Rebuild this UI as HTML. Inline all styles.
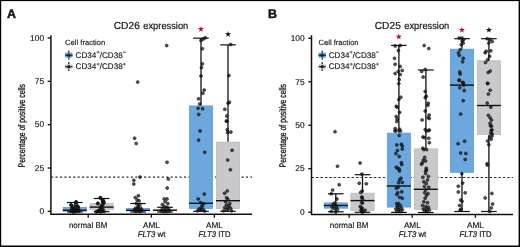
<!DOCTYPE html>
<html><head><meta charset="utf-8"><style>
html,body{margin:0;padding:0;background:#fff;}
svg{display:block;font-family:"Liberation Sans", sans-serif;will-change:transform;}
text{text-rendering:geometricPrecision;fill:#161616;stroke:#161616;stroke-width:0.14px;}
</style></head><body>
<svg width="520" height="247" viewBox="0 0 520 247" xmlns="http://www.w3.org/2000/svg">
<rect width="520" height="247" fill="#fff"/>
<rect x="0" y="0" width="520" height="1.1" fill="#000"/>
<rect x="0" y="0" width="1.2" height="247" fill="#000"/>
<rect x="518.6" y="0" width="1.4" height="247" fill="#000"/>
<rect x="0" y="245.5" width="520" height="1.5" fill="#000"/>
<text x="7.00" y="17.50" font-size="12.4" text-anchor="start" font-weight="bold" font-style="normal" style="stroke-width:0.5px">A</text>
<text y="28.9" style="stroke-width:0.2px"><tspan x="113.75" font-size="10.2">CD26</tspan><tspan x="143.30" font-size="9.8" textLength="45.0" lengthAdjust="spacingAndGlyphs">expression</tspan></text>
<text transform="translate(24.80,125.7) rotate(-90)" x="0" y="0" font-size="9.6" text-anchor="middle" textLength="83.4" lengthAdjust="spacingAndGlyphs" style="stroke-width:0.3px">Percentage of positive cells</text>
<line x1="51.50" y1="177.10" x2="252.00" y2="177.10" stroke="#2a2a2a" stroke-width="1.3" stroke-dasharray="2.1 2.33" stroke-dashoffset="0.45"/>
<path d="M50.90,35.3 L50.90,214.30 L252.00,214.30" fill="none" stroke="#111111" stroke-width="1.5"/>
<line x1="47.70" y1="38.00" x2="50.90" y2="38.00" stroke="#111111" stroke-width="1.35"/>
<text x="44.10" y="40.75" font-size="8.4" text-anchor="end" font-weight="normal" font-style="normal" >100</text>
<line x1="47.70" y1="81.34" x2="50.90" y2="81.34" stroke="#111111" stroke-width="1.35"/>
<text x="44.10" y="84.09" font-size="8.4" text-anchor="end" font-weight="normal" font-style="normal" >75</text>
<line x1="47.70" y1="124.67" x2="50.90" y2="124.67" stroke="#111111" stroke-width="1.35"/>
<text x="44.10" y="127.42" font-size="8.4" text-anchor="end" font-weight="normal" font-style="normal" >50</text>
<line x1="47.70" y1="168.01" x2="50.90" y2="168.01" stroke="#111111" stroke-width="1.35"/>
<text x="44.10" y="170.76" font-size="8.4" text-anchor="end" font-weight="normal" font-style="normal" >25</text>
<line x1="47.70" y1="211.35" x2="50.90" y2="211.35" stroke="#111111" stroke-width="1.35"/>
<text x="44.10" y="214.10" font-size="8.4" text-anchor="end" font-weight="normal" font-style="normal" >0</text>
<line x1="88.20" y1="214.30" x2="88.20" y2="217.70" stroke="#111111" stroke-width="1.3"/>
<line x1="151.40" y1="214.30" x2="151.40" y2="217.70" stroke="#111111" stroke-width="1.3"/>
<line x1="214.40" y1="214.30" x2="214.40" y2="217.70" stroke="#111111" stroke-width="1.3"/>
<text x="0.00" y="227.50" font-size="8.2" text-anchor="middle" font-weight="normal" font-style="normal" transform="translate(88.20,0) scale(0.975,1)">normal BM</text>
<text x="151.50" y="227.50" font-size="8.2" text-anchor="middle" font-weight="normal" font-style="normal" >AML</text>
<text x="0" y="237.4" font-size="8.2" text-anchor="middle" style="stroke-width:0.2px" transform="translate(151.60,0) scale(0.95,1)"><tspan font-style="italic">FLT3</tspan> wt</text>
<text x="214.50" y="227.50" font-size="8.2" text-anchor="middle" font-weight="normal" font-style="normal" >AML</text>
<text x="0" y="237.4" font-size="8.2" text-anchor="middle" style="stroke-width:0.2px" transform="translate(214.60,0) scale(0.945,1)"><tspan font-style="italic">FLT3</tspan> ITD</text>
<text x="65.10" y="45.40" font-size="7.6" text-anchor="start" font-weight="normal" font-style="normal" >Cell fraction</text>
<line x1="68.80" y1="50.7" x2="68.80" y2="59.6" stroke="#111111" stroke-width="1.2"/>
<rect x="65.10" y="52.6" width="7.4" height="5.2" fill="#6ca8de"/>
<line x1="65.10" y1="55.2" x2="72.50" y2="55.2" stroke="#111111" stroke-width="1.1"/>
<circle cx="68.80" cy="55.2" r="1.7" fill="#222"/>
<line x1="68.80" y1="62.1" x2="68.80" y2="71.1" stroke="#111111" stroke-width="1.2"/>
<rect x="65.10" y="64.1" width="7.4" height="5.2" fill="#d6d5d9"/>
<line x1="65.10" y1="66.7" x2="72.50" y2="66.7" stroke="#111111" stroke-width="1.1"/>
<circle cx="68.80" cy="66.7" r="1.7" fill="#222"/>
<text x="75.60" y="57.7" font-size="8.15">CD34<tspan dy="-3.3" font-size="5.6">+</tspan><tspan dy="3.3">/CD38</tspan><tspan dy="-3.3" font-size="5.6">−</tspan></text>
<text x="75.60" y="68.9" font-size="8.15">CD34<tspan dy="-3.3" font-size="5.6">+</tspan><tspan dy="3.3">/CD38</tspan><tspan dy="-3.3" font-size="5.6">+</tspan></text>
<rect x="63.20" y="207.40" width="23.20" height="3.80" fill="#6ca8de" stroke="#5c9dda" stroke-width="0.8"/>
<line x1="74.80" y1="202.50" x2="74.80" y2="207.00" stroke="#111111" stroke-width="1.3"/>
<line x1="74.80" y1="211.60" x2="74.80" y2="212.00" stroke="#111111" stroke-width="1.3"/>
<line x1="67.00" y1="202.50" x2="82.60" y2="202.50" stroke="#111111" stroke-width="1.2"/>
<line x1="67.00" y1="212.00" x2="82.60" y2="212.00" stroke="#111111" stroke-width="1.2"/>
<rect x="90.00" y="203.40" width="23.20" height="6.40" fill="#c9c8cd" stroke="#bcbbc0" stroke-width="0.8"/>
<line x1="101.60" y1="198.50" x2="101.60" y2="203.00" stroke="#111111" stroke-width="1.3"/>
<line x1="101.60" y1="210.20" x2="101.60" y2="211.60" stroke="#111111" stroke-width="1.3"/>
<line x1="93.80" y1="198.50" x2="109.40" y2="198.50" stroke="#111111" stroke-width="1.2"/>
<line x1="93.80" y1="211.60" x2="109.40" y2="211.60" stroke="#111111" stroke-width="1.2"/>
<rect x="126.40" y="208.60" width="23.20" height="2.00" fill="#6ca8de" stroke="#5c9dda" stroke-width="0.8"/>
<line x1="138.00" y1="203.50" x2="138.00" y2="208.20" stroke="#111111" stroke-width="1.3"/>
<line x1="138.00" y1="211.00" x2="138.00" y2="212.00" stroke="#111111" stroke-width="1.3"/>
<line x1="130.20" y1="203.50" x2="145.80" y2="203.50" stroke="#111111" stroke-width="1.2"/>
<line x1="130.20" y1="212.00" x2="145.80" y2="212.00" stroke="#111111" stroke-width="1.2"/>
<rect x="153.40" y="209.80" width="23.20" height="1.00" fill="#c9c8cd" stroke="#bcbbc0" stroke-width="0.8"/>
<line x1="165.00" y1="207.30" x2="165.00" y2="209.40" stroke="#111111" stroke-width="1.3"/>
<line x1="165.00" y1="211.20" x2="165.00" y2="212.00" stroke="#111111" stroke-width="1.3"/>
<line x1="157.20" y1="207.30" x2="172.80" y2="207.30" stroke="#111111" stroke-width="1.2"/>
<line x1="157.20" y1="212.00" x2="172.80" y2="212.00" stroke="#111111" stroke-width="1.2"/>
<rect x="189.40" y="105.90" width="23.20" height="102.50" fill="#6ca8de" stroke="#5c9dda" stroke-width="0.8"/>
<line x1="201.00" y1="38.20" x2="201.00" y2="105.50" stroke="#111111" stroke-width="1.3"/>
<line x1="201.00" y1="208.80" x2="201.00" y2="211.30" stroke="#111111" stroke-width="1.3"/>
<line x1="193.20" y1="38.20" x2="208.80" y2="38.20" stroke="#111111" stroke-width="1.2"/>
<line x1="193.20" y1="211.30" x2="208.80" y2="211.30" stroke="#111111" stroke-width="1.2"/>
<rect x="216.40" y="142.20" width="23.20" height="66.20" fill="#c9c8cd" stroke="#bcbbc0" stroke-width="0.8"/>
<line x1="228.00" y1="44.90" x2="228.00" y2="141.80" stroke="#111111" stroke-width="1.3"/>
<line x1="228.00" y1="208.80" x2="228.00" y2="211.30" stroke="#111111" stroke-width="1.3"/>
<line x1="220.20" y1="44.90" x2="235.80" y2="44.90" stroke="#111111" stroke-width="1.2"/>
<line x1="220.20" y1="211.30" x2="235.80" y2="211.30" stroke="#111111" stroke-width="1.2"/>
<circle cx="71.40" cy="205.10" r="1.5" fill="#111" fill-opacity="0.72" stroke="#111" stroke-opacity="0.9" stroke-width="0.6"/>
<circle cx="76.20" cy="201.90" r="1.5" fill="#111" fill-opacity="0.72" stroke="#111" stroke-opacity="0.9" stroke-width="0.6"/>
<circle cx="76.60" cy="204.70" r="1.5" fill="#111" fill-opacity="0.72" stroke="#111" stroke-opacity="0.9" stroke-width="0.6"/>
<circle cx="78.20" cy="206.80" r="1.5" fill="#111" fill-opacity="0.72" stroke="#111" stroke-opacity="0.9" stroke-width="0.6"/>
<circle cx="72.20" cy="208.40" r="1.5" fill="#111" fill-opacity="0.72" stroke="#111" stroke-opacity="0.9" stroke-width="0.6"/>
<circle cx="74.20" cy="209.60" r="1.5" fill="#111" fill-opacity="0.72" stroke="#111" stroke-opacity="0.9" stroke-width="0.6"/>
<circle cx="76.20" cy="210.80" r="1.5" fill="#111" fill-opacity="0.72" stroke="#111" stroke-opacity="0.9" stroke-width="0.6"/>
<circle cx="78.70" cy="211.20" r="1.5" fill="#111" fill-opacity="0.72" stroke="#111" stroke-opacity="0.9" stroke-width="0.6"/>
<circle cx="70.50" cy="211.20" r="1.5" fill="#111" fill-opacity="0.72" stroke="#111" stroke-opacity="0.9" stroke-width="0.6"/>
<circle cx="73.00" cy="210.50" r="1.5" fill="#111" fill-opacity="0.72" stroke="#111" stroke-opacity="0.9" stroke-width="0.6"/>
<circle cx="75.50" cy="207.50" r="1.5" fill="#111" fill-opacity="0.72" stroke="#111" stroke-opacity="0.9" stroke-width="0.6"/>
<circle cx="77.00" cy="209.00" r="1.5" fill="#111" fill-opacity="0.72" stroke="#111" stroke-opacity="0.9" stroke-width="0.6"/>
<circle cx="70.90" cy="204.90" r="1.5" fill="#111" fill-opacity="0.72" stroke="#111" stroke-opacity="0.9" stroke-width="0.6"/>
<circle cx="76.00" cy="202.00" r="1.5" fill="#111" fill-opacity="0.72" stroke="#111" stroke-opacity="0.9" stroke-width="0.6"/>
<circle cx="77.50" cy="206.40" r="1.5" fill="#111" fill-opacity="0.72" stroke="#111" stroke-opacity="0.9" stroke-width="0.6"/>
<circle cx="73.10" cy="206.70" r="1.5" fill="#111" fill-opacity="0.72" stroke="#111" stroke-opacity="0.9" stroke-width="0.6"/>
<circle cx="74.60" cy="208.90" r="1.5" fill="#111" fill-opacity="0.72" stroke="#111" stroke-opacity="0.9" stroke-width="0.6"/>
<circle cx="71.70" cy="210.70" r="1.5" fill="#111" fill-opacity="0.72" stroke="#111" stroke-opacity="0.9" stroke-width="0.6"/>
<circle cx="77.10" cy="210.00" r="1.5" fill="#111" fill-opacity="0.72" stroke="#111" stroke-opacity="0.9" stroke-width="0.6"/>
<circle cx="73.50" cy="212.20" r="1.5" fill="#111" fill-opacity="0.72" stroke="#111" stroke-opacity="0.9" stroke-width="0.6"/>
<circle cx="78.20" cy="208.20" r="1.5" fill="#111" fill-opacity="0.72" stroke="#111" stroke-opacity="0.9" stroke-width="0.6"/>
<circle cx="75.70" cy="211.50" r="1.5" fill="#111" fill-opacity="0.72" stroke="#111" stroke-opacity="0.9" stroke-width="0.6"/>
<circle cx="72.00" cy="207.50" r="1.5" fill="#111" fill-opacity="0.72" stroke="#111" stroke-opacity="0.9" stroke-width="0.6"/>
<circle cx="79.00" cy="210.50" r="1.5" fill="#111" fill-opacity="0.72" stroke="#111" stroke-opacity="0.9" stroke-width="0.6"/>
<circle cx="100.40" cy="198.00" r="1.5" fill="#111" fill-opacity="0.72" stroke="#111" stroke-opacity="0.9" stroke-width="0.6"/>
<circle cx="102.60" cy="200.20" r="1.5" fill="#111" fill-opacity="0.72" stroke="#111" stroke-opacity="0.9" stroke-width="0.6"/>
<circle cx="103.90" cy="202.00" r="1.5" fill="#111" fill-opacity="0.72" stroke="#111" stroke-opacity="0.9" stroke-width="0.6"/>
<circle cx="98.10" cy="203.30" r="1.5" fill="#111" fill-opacity="0.72" stroke="#111" stroke-opacity="0.9" stroke-width="0.6"/>
<circle cx="103.50" cy="203.80" r="1.5" fill="#111" fill-opacity="0.72" stroke="#111" stroke-opacity="0.9" stroke-width="0.6"/>
<circle cx="101.70" cy="206.00" r="1.5" fill="#111" fill-opacity="0.72" stroke="#111" stroke-opacity="0.9" stroke-width="0.6"/>
<circle cx="101.20" cy="208.20" r="1.5" fill="#111" fill-opacity="0.72" stroke="#111" stroke-opacity="0.9" stroke-width="0.6"/>
<circle cx="99.50" cy="210.50" r="1.5" fill="#111" fill-opacity="0.72" stroke="#111" stroke-opacity="0.9" stroke-width="0.6"/>
<circle cx="97.70" cy="211.40" r="1.5" fill="#111" fill-opacity="0.72" stroke="#111" stroke-opacity="0.9" stroke-width="0.6"/>
<circle cx="100.80" cy="211.80" r="1.5" fill="#111" fill-opacity="0.72" stroke="#111" stroke-opacity="0.9" stroke-width="0.6"/>
<circle cx="102.60" cy="210.90" r="1.5" fill="#111" fill-opacity="0.72" stroke="#111" stroke-opacity="0.9" stroke-width="0.6"/>
<circle cx="104.00" cy="211.50" r="1.5" fill="#111" fill-opacity="0.72" stroke="#111" stroke-opacity="0.9" stroke-width="0.6"/>
<circle cx="96.00" cy="211.80" r="1.5" fill="#111" fill-opacity="0.72" stroke="#111" stroke-opacity="0.9" stroke-width="0.6"/>
<circle cx="100.40" cy="197.60" r="1.5" fill="#111" fill-opacity="0.72" stroke="#111" stroke-opacity="0.9" stroke-width="0.6"/>
<circle cx="97.60" cy="203.60" r="1.5" fill="#111" fill-opacity="0.72" stroke="#111" stroke-opacity="0.9" stroke-width="0.6"/>
<circle cx="103.20" cy="200.40" r="1.5" fill="#111" fill-opacity="0.72" stroke="#111" stroke-opacity="0.9" stroke-width="0.6"/>
<circle cx="103.70" cy="202.30" r="1.5" fill="#111" fill-opacity="0.72" stroke="#111" stroke-opacity="0.9" stroke-width="0.6"/>
<circle cx="102.30" cy="205.00" r="1.5" fill="#111" fill-opacity="0.72" stroke="#111" stroke-opacity="0.9" stroke-width="0.6"/>
<circle cx="100.40" cy="208.30" r="1.5" fill="#111" fill-opacity="0.72" stroke="#111" stroke-opacity="0.9" stroke-width="0.6"/>
<circle cx="98.10" cy="211.10" r="1.5" fill="#111" fill-opacity="0.72" stroke="#111" stroke-opacity="0.9" stroke-width="0.6"/>
<circle cx="97.20" cy="211.60" r="1.5" fill="#111" fill-opacity="0.72" stroke="#111" stroke-opacity="0.9" stroke-width="0.6"/>
<circle cx="99.50" cy="210.60" r="1.5" fill="#111" fill-opacity="0.72" stroke="#111" stroke-opacity="0.9" stroke-width="0.6"/>
<circle cx="102.80" cy="209.20" r="1.5" fill="#111" fill-opacity="0.72" stroke="#111" stroke-opacity="0.9" stroke-width="0.6"/>
<circle cx="101.00" cy="206.50" r="1.5" fill="#111" fill-opacity="0.72" stroke="#111" stroke-opacity="0.9" stroke-width="0.6"/>
<circle cx="100.00" cy="211.50" r="1.5" fill="#111" fill-opacity="0.72" stroke="#111" stroke-opacity="0.9" stroke-width="0.6"/>
<circle cx="137.70" cy="82.10" r="1.5" fill="#111" fill-opacity="0.72" stroke="#111" stroke-opacity="0.9" stroke-width="0.6"/>
<circle cx="134.60" cy="138.20" r="1.5" fill="#111" fill-opacity="0.72" stroke="#111" stroke-opacity="0.9" stroke-width="0.6"/>
<circle cx="136.20" cy="143.50" r="1.5" fill="#111" fill-opacity="0.72" stroke="#111" stroke-opacity="0.9" stroke-width="0.6"/>
<circle cx="139.90" cy="177.10" r="1.5" fill="#111" fill-opacity="0.72" stroke="#111" stroke-opacity="0.9" stroke-width="0.6"/>
<circle cx="133.80" cy="180.30" r="1.5" fill="#111" fill-opacity="0.72" stroke="#111" stroke-opacity="0.9" stroke-width="0.6"/>
<circle cx="133.80" cy="184.00" r="1.5" fill="#111" fill-opacity="0.72" stroke="#111" stroke-opacity="0.9" stroke-width="0.6"/>
<circle cx="138.40" cy="195.70" r="1.5" fill="#111" fill-opacity="0.72" stroke="#111" stroke-opacity="0.9" stroke-width="0.6"/>
<circle cx="135.30" cy="197.60" r="1.5" fill="#111" fill-opacity="0.72" stroke="#111" stroke-opacity="0.9" stroke-width="0.6"/>
<circle cx="137.10" cy="199.90" r="1.5" fill="#111" fill-opacity="0.72" stroke="#111" stroke-opacity="0.9" stroke-width="0.6"/>
<circle cx="139.00" cy="200.80" r="1.5" fill="#111" fill-opacity="0.72" stroke="#111" stroke-opacity="0.9" stroke-width="0.6"/>
<circle cx="136.20" cy="203.60" r="1.5" fill="#111" fill-opacity="0.72" stroke="#111" stroke-opacity="0.9" stroke-width="0.6"/>
<circle cx="139.90" cy="204.50" r="1.5" fill="#111" fill-opacity="0.72" stroke="#111" stroke-opacity="0.9" stroke-width="0.6"/>
<circle cx="138.10" cy="206.40" r="1.5" fill="#111" fill-opacity="0.72" stroke="#111" stroke-opacity="0.9" stroke-width="0.6"/>
<circle cx="135.30" cy="208.20" r="1.5" fill="#111" fill-opacity="0.72" stroke="#111" stroke-opacity="0.9" stroke-width="0.6"/>
<circle cx="140.90" cy="208.20" r="1.5" fill="#111" fill-opacity="0.72" stroke="#111" stroke-opacity="0.9" stroke-width="0.6"/>
<circle cx="137.10" cy="209.20" r="1.5" fill="#111" fill-opacity="0.72" stroke="#111" stroke-opacity="0.9" stroke-width="0.6"/>
<circle cx="139.00" cy="210.10" r="1.5" fill="#111" fill-opacity="0.72" stroke="#111" stroke-opacity="0.9" stroke-width="0.6"/>
<circle cx="134.30" cy="210.10" r="1.5" fill="#111" fill-opacity="0.72" stroke="#111" stroke-opacity="0.9" stroke-width="0.6"/>
<circle cx="141.80" cy="210.10" r="1.5" fill="#111" fill-opacity="0.72" stroke="#111" stroke-opacity="0.9" stroke-width="0.6"/>
<circle cx="136.00" cy="211.50" r="1.5" fill="#111" fill-opacity="0.72" stroke="#111" stroke-opacity="0.9" stroke-width="0.6"/>
<circle cx="140.00" cy="211.60" r="1.5" fill="#111" fill-opacity="0.72" stroke="#111" stroke-opacity="0.9" stroke-width="0.6"/>
<circle cx="138.00" cy="207.50" r="1.5" fill="#111" fill-opacity="0.72" stroke="#111" stroke-opacity="0.9" stroke-width="0.6"/>
<circle cx="167.00" cy="162.30" r="1.5" fill="#111" fill-opacity="0.72" stroke="#111" stroke-opacity="0.9" stroke-width="0.6"/>
<circle cx="168.30" cy="179.00" r="1.5" fill="#111" fill-opacity="0.72" stroke="#111" stroke-opacity="0.9" stroke-width="0.6"/>
<circle cx="167.20" cy="188.10" r="1.5" fill="#111" fill-opacity="0.72" stroke="#111" stroke-opacity="0.9" stroke-width="0.6"/>
<circle cx="164.20" cy="198.90" r="1.5" fill="#111" fill-opacity="0.72" stroke="#111" stroke-opacity="0.9" stroke-width="0.6"/>
<circle cx="167.00" cy="198.90" r="1.5" fill="#111" fill-opacity="0.72" stroke="#111" stroke-opacity="0.9" stroke-width="0.6"/>
<circle cx="165.10" cy="201.70" r="1.5" fill="#111" fill-opacity="0.72" stroke="#111" stroke-opacity="0.9" stroke-width="0.6"/>
<circle cx="167.90" cy="203.60" r="1.5" fill="#111" fill-opacity="0.72" stroke="#111" stroke-opacity="0.9" stroke-width="0.6"/>
<circle cx="162.30" cy="204.50" r="1.5" fill="#111" fill-opacity="0.72" stroke="#111" stroke-opacity="0.9" stroke-width="0.6"/>
<circle cx="164.20" cy="206.40" r="1.5" fill="#111" fill-opacity="0.72" stroke="#111" stroke-opacity="0.9" stroke-width="0.6"/>
<circle cx="167.00" cy="207.30" r="1.5" fill="#111" fill-opacity="0.72" stroke="#111" stroke-opacity="0.9" stroke-width="0.6"/>
<circle cx="162.30" cy="209.20" r="1.5" fill="#111" fill-opacity="0.72" stroke="#111" stroke-opacity="0.9" stroke-width="0.6"/>
<circle cx="165.10" cy="210.10" r="1.5" fill="#111" fill-opacity="0.72" stroke="#111" stroke-opacity="0.9" stroke-width="0.6"/>
<circle cx="168.80" cy="209.20" r="1.5" fill="#111" fill-opacity="0.72" stroke="#111" stroke-opacity="0.9" stroke-width="0.6"/>
<circle cx="163.50" cy="211.50" r="1.5" fill="#111" fill-opacity="0.72" stroke="#111" stroke-opacity="0.9" stroke-width="0.6"/>
<circle cx="166.50" cy="211.50" r="1.5" fill="#111" fill-opacity="0.72" stroke="#111" stroke-opacity="0.9" stroke-width="0.6"/>
<circle cx="161.00" cy="210.80" r="1.5" fill="#111" fill-opacity="0.72" stroke="#111" stroke-opacity="0.9" stroke-width="0.6"/>
<circle cx="169.00" cy="211.00" r="1.5" fill="#111" fill-opacity="0.72" stroke="#111" stroke-opacity="0.9" stroke-width="0.6"/>
<circle cx="205.20" cy="37.70" r="1.5" fill="#111" fill-opacity="0.72" stroke="#111" stroke-opacity="0.9" stroke-width="0.6"/>
<circle cx="203.30" cy="39.00" r="1.5" fill="#111" fill-opacity="0.72" stroke="#111" stroke-opacity="0.9" stroke-width="0.6"/>
<circle cx="201.00" cy="40.50" r="1.5" fill="#111" fill-opacity="0.72" stroke="#111" stroke-opacity="0.9" stroke-width="0.6"/>
<circle cx="202.40" cy="48.70" r="1.5" fill="#111" fill-opacity="0.72" stroke="#111" stroke-opacity="0.9" stroke-width="0.6"/>
<circle cx="202.40" cy="63.80" r="1.5" fill="#111" fill-opacity="0.72" stroke="#111" stroke-opacity="0.9" stroke-width="0.6"/>
<circle cx="201.50" cy="67.50" r="1.5" fill="#111" fill-opacity="0.72" stroke="#111" stroke-opacity="0.9" stroke-width="0.6"/>
<circle cx="201.00" cy="76.00" r="1.5" fill="#111" fill-opacity="0.72" stroke="#111" stroke-opacity="0.9" stroke-width="0.6"/>
<circle cx="204.20" cy="90.10" r="1.5" fill="#111" fill-opacity="0.72" stroke="#111" stroke-opacity="0.9" stroke-width="0.6"/>
<circle cx="202.80" cy="93.20" r="1.5" fill="#111" fill-opacity="0.72" stroke="#111" stroke-opacity="0.9" stroke-width="0.6"/>
<circle cx="198.50" cy="98.80" r="1.5" fill="#111" fill-opacity="0.72" stroke="#111" stroke-opacity="0.9" stroke-width="0.6"/>
<circle cx="199.70" cy="103.90" r="1.5" fill="#111" fill-opacity="0.72" stroke="#111" stroke-opacity="0.9" stroke-width="0.6"/>
<circle cx="198.10" cy="108.30" r="1.5" fill="#111" fill-opacity="0.72" stroke="#111" stroke-opacity="0.9" stroke-width="0.6"/>
<circle cx="202.60" cy="108.70" r="1.5" fill="#111" fill-opacity="0.72" stroke="#111" stroke-opacity="0.9" stroke-width="0.6"/>
<circle cx="198.70" cy="114.40" r="1.5" fill="#111" fill-opacity="0.72" stroke="#111" stroke-opacity="0.9" stroke-width="0.6"/>
<circle cx="200.10" cy="130.90" r="1.5" fill="#111" fill-opacity="0.72" stroke="#111" stroke-opacity="0.9" stroke-width="0.6"/>
<circle cx="198.60" cy="140.10" r="1.5" fill="#111" fill-opacity="0.72" stroke="#111" stroke-opacity="0.9" stroke-width="0.6"/>
<circle cx="204.70" cy="152.30" r="1.5" fill="#111" fill-opacity="0.72" stroke="#111" stroke-opacity="0.9" stroke-width="0.6"/>
<circle cx="204.30" cy="194.10" r="1.5" fill="#111" fill-opacity="0.72" stroke="#111" stroke-opacity="0.9" stroke-width="0.6"/>
<circle cx="198.20" cy="199.00" r="1.5" fill="#111" fill-opacity="0.72" stroke="#111" stroke-opacity="0.9" stroke-width="0.6"/>
<circle cx="200.60" cy="202.60" r="1.5" fill="#111" fill-opacity="0.72" stroke="#111" stroke-opacity="0.9" stroke-width="0.6"/>
<circle cx="203.50" cy="203.80" r="1.5" fill="#111" fill-opacity="0.72" stroke="#111" stroke-opacity="0.9" stroke-width="0.6"/>
<circle cx="202.20" cy="205.80" r="1.5" fill="#111" fill-opacity="0.72" stroke="#111" stroke-opacity="0.9" stroke-width="0.6"/>
<circle cx="201.40" cy="207.40" r="1.5" fill="#111" fill-opacity="0.72" stroke="#111" stroke-opacity="0.9" stroke-width="0.6"/>
<circle cx="199.00" cy="209.00" r="1.5" fill="#111" fill-opacity="0.72" stroke="#111" stroke-opacity="0.9" stroke-width="0.6"/>
<circle cx="203.00" cy="209.40" r="1.5" fill="#111" fill-opacity="0.72" stroke="#111" stroke-opacity="0.9" stroke-width="0.6"/>
<circle cx="200.60" cy="209.80" r="1.5" fill="#111" fill-opacity="0.72" stroke="#111" stroke-opacity="0.9" stroke-width="0.6"/>
<circle cx="197.50" cy="210.80" r="1.5" fill="#111" fill-opacity="0.72" stroke="#111" stroke-opacity="0.9" stroke-width="0.6"/>
<circle cx="204.50" cy="211.00" r="1.5" fill="#111" fill-opacity="0.72" stroke="#111" stroke-opacity="0.9" stroke-width="0.6"/>
<circle cx="230.70" cy="44.50" r="1.5" fill="#111" fill-opacity="0.72" stroke="#111" stroke-opacity="0.9" stroke-width="0.6"/>
<circle cx="228.90" cy="75.50" r="1.5" fill="#111" fill-opacity="0.72" stroke="#111" stroke-opacity="0.9" stroke-width="0.6"/>
<circle cx="229.40" cy="102.20" r="1.5" fill="#111" fill-opacity="0.72" stroke="#111" stroke-opacity="0.9" stroke-width="0.6"/>
<circle cx="228.00" cy="103.30" r="1.5" fill="#111" fill-opacity="0.72" stroke="#111" stroke-opacity="0.9" stroke-width="0.6"/>
<circle cx="224.80" cy="109.30" r="1.5" fill="#111" fill-opacity="0.72" stroke="#111" stroke-opacity="0.9" stroke-width="0.6"/>
<circle cx="226.80" cy="116.00" r="1.5" fill="#111" fill-opacity="0.72" stroke="#111" stroke-opacity="0.9" stroke-width="0.6"/>
<circle cx="226.40" cy="121.00" r="1.5" fill="#111" fill-opacity="0.72" stroke="#111" stroke-opacity="0.9" stroke-width="0.6"/>
<circle cx="226.80" cy="121.20" r="1.5" fill="#111" fill-opacity="0.72" stroke="#111" stroke-opacity="0.9" stroke-width="0.6"/>
<circle cx="227.30" cy="129.70" r="1.5" fill="#111" fill-opacity="0.72" stroke="#111" stroke-opacity="0.9" stroke-width="0.6"/>
<circle cx="230.90" cy="132.10" r="1.5" fill="#111" fill-opacity="0.72" stroke="#111" stroke-opacity="0.9" stroke-width="0.6"/>
<circle cx="227.70" cy="132.60" r="1.5" fill="#111" fill-opacity="0.72" stroke="#111" stroke-opacity="0.9" stroke-width="0.6"/>
<circle cx="232.10" cy="150.30" r="1.5" fill="#111" fill-opacity="0.72" stroke="#111" stroke-opacity="0.9" stroke-width="0.6"/>
<circle cx="227.70" cy="160.00" r="1.5" fill="#111" fill-opacity="0.72" stroke="#111" stroke-opacity="0.9" stroke-width="0.6"/>
<circle cx="230.40" cy="169.80" r="1.5" fill="#111" fill-opacity="0.72" stroke="#111" stroke-opacity="0.9" stroke-width="0.6"/>
<circle cx="227.30" cy="190.90" r="1.5" fill="#111" fill-opacity="0.72" stroke="#111" stroke-opacity="0.9" stroke-width="0.6"/>
<circle cx="224.60" cy="193.20" r="1.5" fill="#111" fill-opacity="0.72" stroke="#111" stroke-opacity="0.9" stroke-width="0.6"/>
<circle cx="226.50" cy="197.70" r="1.5" fill="#111" fill-opacity="0.72" stroke="#111" stroke-opacity="0.9" stroke-width="0.6"/>
<circle cx="227.80" cy="199.30" r="1.5" fill="#111" fill-opacity="0.72" stroke="#111" stroke-opacity="0.9" stroke-width="0.6"/>
<circle cx="225.70" cy="201.70" r="1.5" fill="#111" fill-opacity="0.72" stroke="#111" stroke-opacity="0.9" stroke-width="0.6"/>
<circle cx="229.80" cy="203.40" r="1.5" fill="#111" fill-opacity="0.72" stroke="#111" stroke-opacity="0.9" stroke-width="0.6"/>
<circle cx="226.50" cy="205.00" r="1.5" fill="#111" fill-opacity="0.72" stroke="#111" stroke-opacity="0.9" stroke-width="0.6"/>
<circle cx="229.00" cy="205.80" r="1.5" fill="#111" fill-opacity="0.72" stroke="#111" stroke-opacity="0.9" stroke-width="0.6"/>
<circle cx="224.90" cy="207.40" r="1.5" fill="#111" fill-opacity="0.72" stroke="#111" stroke-opacity="0.9" stroke-width="0.6"/>
<circle cx="228.10" cy="208.20" r="1.5" fill="#111" fill-opacity="0.72" stroke="#111" stroke-opacity="0.9" stroke-width="0.6"/>
<circle cx="230.60" cy="208.20" r="1.5" fill="#111" fill-opacity="0.72" stroke="#111" stroke-opacity="0.9" stroke-width="0.6"/>
<circle cx="226.50" cy="209.80" r="1.5" fill="#111" fill-opacity="0.72" stroke="#111" stroke-opacity="0.9" stroke-width="0.6"/>
<circle cx="223.50" cy="210.80" r="1.5" fill="#111" fill-opacity="0.72" stroke="#111" stroke-opacity="0.9" stroke-width="0.6"/>
<circle cx="231.50" cy="210.80" r="1.5" fill="#111" fill-opacity="0.72" stroke="#111" stroke-opacity="0.9" stroke-width="0.6"/>
<circle cx="166.70" cy="45.60" r="1.5" fill="#111" fill-opacity="0.72" stroke="#111" stroke-opacity="0.9" stroke-width="0.6"/>
<line x1="62.80" y1="210.20" x2="86.80" y2="210.20" stroke="#111111" stroke-width="1.4"/>
<line x1="89.60" y1="207.10" x2="113.60" y2="207.10" stroke="#111111" stroke-width="1.4"/>
<line x1="126.00" y1="210.40" x2="150.00" y2="210.40" stroke="#111111" stroke-width="1.4"/>
<line x1="153.00" y1="210.20" x2="177.00" y2="210.20" stroke="#111111" stroke-width="1.4"/>
<line x1="189.00" y1="203.30" x2="213.00" y2="203.30" stroke="#111111" stroke-width="1.4"/>
<line x1="216.00" y1="200.70" x2="240.00" y2="200.70" stroke="#111111" stroke-width="1.4"/>
<polygon points="201.00,25.90 201.75,28.06 204.04,28.11 202.22,29.50 202.88,31.69 201.00,30.38 199.12,31.69 199.78,29.50 197.96,28.11 200.25,28.06" fill="#b40f3c"/>
<polygon points="228.10,31.10 228.85,33.26 231.14,33.31 229.32,34.70 229.98,36.89 228.10,35.58 226.22,36.89 226.88,34.70 225.06,33.31 227.35,33.26" fill="#111"/>
<text x="268.00" y="17.50" font-size="12.4" text-anchor="start" font-weight="bold" font-style="normal" style="stroke-width:0.5px">B</text>
<text y="28.9" style="stroke-width:0.2px"><tspan x="374.75" font-size="10.2">CD25</tspan><tspan x="404.30" font-size="9.8" textLength="45.0" lengthAdjust="spacingAndGlyphs">expression</tspan></text>
<text transform="translate(285.80,125.7) rotate(-90)" x="0" y="0" font-size="9.6" text-anchor="middle" textLength="83.4" lengthAdjust="spacingAndGlyphs" style="stroke-width:0.3px">Percentage of positive cells</text>
<line x1="312.10" y1="177.50" x2="513.00" y2="177.50" stroke="#2a2a2a" stroke-width="1.1" stroke-dasharray="2.5 1.95" stroke-dashoffset="0.6"/>
<path d="M311.50,35.3 L311.50,214.40 L513.00,214.40" fill="none" stroke="#111111" stroke-width="1.5"/>
<line x1="308.30" y1="38.30" x2="311.50" y2="38.30" stroke="#111111" stroke-width="1.35"/>
<text x="304.70" y="41.05" font-size="8.4" text-anchor="end" font-weight="normal" font-style="normal" >100</text>
<line x1="308.30" y1="81.77" x2="311.50" y2="81.77" stroke="#111111" stroke-width="1.35"/>
<text x="304.70" y="84.52" font-size="8.4" text-anchor="end" font-weight="normal" font-style="normal" >75</text>
<line x1="308.30" y1="125.25" x2="311.50" y2="125.25" stroke="#111111" stroke-width="1.35"/>
<text x="304.70" y="128.00" font-size="8.4" text-anchor="end" font-weight="normal" font-style="normal" >50</text>
<line x1="308.30" y1="168.72" x2="311.50" y2="168.72" stroke="#111111" stroke-width="1.35"/>
<text x="304.70" y="171.47" font-size="8.4" text-anchor="end" font-weight="normal" font-style="normal" >25</text>
<line x1="308.30" y1="212.20" x2="311.50" y2="212.20" stroke="#111111" stroke-width="1.35"/>
<text x="304.70" y="214.95" font-size="8.4" text-anchor="end" font-weight="normal" font-style="normal" >0</text>
<line x1="349.10" y1="214.40" x2="349.10" y2="217.80" stroke="#111111" stroke-width="1.3"/>
<line x1="412.20" y1="214.40" x2="412.20" y2="217.80" stroke="#111111" stroke-width="1.3"/>
<line x1="475.40" y1="214.40" x2="475.40" y2="217.80" stroke="#111111" stroke-width="1.3"/>
<text x="0.00" y="227.50" font-size="8.2" text-anchor="middle" font-weight="normal" font-style="normal" transform="translate(349.10,0) scale(0.975,1)">normal BM</text>
<text x="412.30" y="227.50" font-size="8.2" text-anchor="middle" font-weight="normal" font-style="normal" >AML</text>
<text x="0" y="237.4" font-size="8.2" text-anchor="middle" style="stroke-width:0.2px" transform="translate(412.40,0) scale(0.95,1)"><tspan font-style="italic">FLT3</tspan> wt</text>
<text x="475.50" y="227.50" font-size="8.2" text-anchor="middle" font-weight="normal" font-style="normal" >AML</text>
<text x="0" y="237.4" font-size="8.2" text-anchor="middle" style="stroke-width:0.2px" transform="translate(475.60,0) scale(0.945,1)"><tspan font-style="italic">FLT3</tspan> ITD</text>
<text x="318.50" y="45.40" font-size="7.6" text-anchor="start" font-weight="normal" font-style="normal" >Cell fraction</text>
<line x1="322.20" y1="50.7" x2="322.20" y2="59.6" stroke="#111111" stroke-width="1.2"/>
<rect x="318.50" y="52.6" width="7.4" height="5.2" fill="#6ca8de"/>
<line x1="318.50" y1="55.2" x2="325.90" y2="55.2" stroke="#111111" stroke-width="1.1"/>
<circle cx="322.20" cy="55.2" r="1.7" fill="#222"/>
<line x1="322.20" y1="62.1" x2="322.20" y2="71.1" stroke="#111111" stroke-width="1.2"/>
<rect x="318.50" y="64.1" width="7.4" height="5.2" fill="#d6d5d9"/>
<line x1="318.50" y1="66.7" x2="325.90" y2="66.7" stroke="#111111" stroke-width="1.1"/>
<circle cx="322.20" cy="66.7" r="1.7" fill="#222"/>
<text x="328.70" y="57.7" font-size="8.15">CD34<tspan dy="-3.3" font-size="5.6">+</tspan><tspan dy="3.3">/CD38</tspan><tspan dy="-3.3" font-size="5.6">−</tspan></text>
<text x="328.70" y="68.9" font-size="8.15">CD34<tspan dy="-3.3" font-size="5.6">+</tspan><tspan dy="3.3">/CD38</tspan><tspan dy="-3.3" font-size="5.6">+</tspan></text>
<rect x="324.20" y="202.90" width="23.20" height="5.30" fill="#6ca8de" stroke="#5c9dda" stroke-width="0.8"/>
<line x1="335.80" y1="193.80" x2="335.80" y2="202.50" stroke="#111111" stroke-width="1.3"/>
<line x1="335.80" y1="208.60" x2="335.80" y2="211.80" stroke="#111111" stroke-width="1.3"/>
<line x1="328.00" y1="193.80" x2="343.60" y2="193.80" stroke="#111111" stroke-width="1.2"/>
<line x1="328.00" y1="211.80" x2="343.60" y2="211.80" stroke="#111111" stroke-width="1.2"/>
<rect x="350.90" y="193.20" width="23.20" height="17.50" fill="#c9c8cd" stroke="#bcbbc0" stroke-width="0.8"/>
<line x1="362.50" y1="174.70" x2="362.50" y2="192.80" stroke="#111111" stroke-width="1.3"/>
<line x1="362.50" y1="211.10" x2="362.50" y2="212.30" stroke="#111111" stroke-width="1.3"/>
<line x1="354.70" y1="174.70" x2="370.30" y2="174.70" stroke="#111111" stroke-width="1.2"/>
<line x1="354.70" y1="212.30" x2="370.30" y2="212.30" stroke="#111111" stroke-width="1.2"/>
<rect x="387.30" y="133.10" width="23.20" height="74.00" fill="#6ca8de" stroke="#5c9dda" stroke-width="0.8"/>
<line x1="398.90" y1="45.40" x2="398.90" y2="132.70" stroke="#111111" stroke-width="1.3"/>
<line x1="398.90" y1="207.50" x2="398.90" y2="212.40" stroke="#111111" stroke-width="1.3"/>
<line x1="391.10" y1="45.40" x2="406.70" y2="45.40" stroke="#111111" stroke-width="1.2"/>
<line x1="391.10" y1="212.40" x2="406.70" y2="212.40" stroke="#111111" stroke-width="1.2"/>
<rect x="414.30" y="148.90" width="23.20" height="60.40" fill="#c9c8cd" stroke="#bcbbc0" stroke-width="0.8"/>
<line x1="425.90" y1="70.00" x2="425.90" y2="148.50" stroke="#111111" stroke-width="1.3"/>
<line x1="425.90" y1="209.70" x2="425.90" y2="212.50" stroke="#111111" stroke-width="1.3"/>
<line x1="418.10" y1="70.00" x2="433.70" y2="70.00" stroke="#111111" stroke-width="1.2"/>
<line x1="418.10" y1="212.50" x2="433.70" y2="212.50" stroke="#111111" stroke-width="1.2"/>
<rect x="450.40" y="49.20" width="23.20" height="123.10" fill="#6ca8de" stroke="#5c9dda" stroke-width="0.8"/>
<line x1="462.00" y1="38.70" x2="462.00" y2="48.80" stroke="#111111" stroke-width="1.3"/>
<line x1="462.00" y1="172.70" x2="462.00" y2="211.50" stroke="#111111" stroke-width="1.3"/>
<line x1="454.20" y1="38.70" x2="469.80" y2="38.70" stroke="#111111" stroke-width="1.2"/>
<line x1="454.20" y1="211.50" x2="469.80" y2="211.50" stroke="#111111" stroke-width="1.2"/>
<rect x="477.30" y="60.80" width="23.20" height="73.80" fill="#c9c8cd" stroke="#bcbbc0" stroke-width="0.8"/>
<line x1="488.90" y1="38.70" x2="488.90" y2="60.40" stroke="#111111" stroke-width="1.3"/>
<line x1="488.90" y1="135.00" x2="488.90" y2="211.50" stroke="#111111" stroke-width="1.3"/>
<line x1="481.10" y1="38.70" x2="496.70" y2="38.70" stroke="#111111" stroke-width="1.2"/>
<line x1="481.10" y1="211.50" x2="496.70" y2="211.50" stroke="#111111" stroke-width="1.2"/>
<circle cx="335.00" cy="131.70" r="1.5" fill="#111" fill-opacity="0.72" stroke="#111" stroke-opacity="0.9" stroke-width="0.6"/>
<circle cx="337.50" cy="166.20" r="1.5" fill="#111" fill-opacity="0.72" stroke="#111" stroke-opacity="0.9" stroke-width="0.6"/>
<circle cx="339.20" cy="184.70" r="1.5" fill="#111" fill-opacity="0.72" stroke="#111" stroke-opacity="0.9" stroke-width="0.6"/>
<circle cx="332.60" cy="190.00" r="1.5" fill="#111" fill-opacity="0.72" stroke="#111" stroke-opacity="0.9" stroke-width="0.6"/>
<circle cx="331.30" cy="193.80" r="1.5" fill="#111" fill-opacity="0.72" stroke="#111" stroke-opacity="0.9" stroke-width="0.6"/>
<circle cx="336.90" cy="199.00" r="1.5" fill="#111" fill-opacity="0.72" stroke="#111" stroke-opacity="0.9" stroke-width="0.6"/>
<circle cx="334.80" cy="203.00" r="1.5" fill="#111" fill-opacity="0.72" stroke="#111" stroke-opacity="0.9" stroke-width="0.6"/>
<circle cx="333.10" cy="204.30" r="1.5" fill="#111" fill-opacity="0.72" stroke="#111" stroke-opacity="0.9" stroke-width="0.6"/>
<circle cx="335.70" cy="205.20" r="1.5" fill="#111" fill-opacity="0.72" stroke="#111" stroke-opacity="0.9" stroke-width="0.6"/>
<circle cx="336.60" cy="206.90" r="1.5" fill="#111" fill-opacity="0.72" stroke="#111" stroke-opacity="0.9" stroke-width="0.6"/>
<circle cx="332.20" cy="206.90" r="1.5" fill="#111" fill-opacity="0.72" stroke="#111" stroke-opacity="0.9" stroke-width="0.6"/>
<circle cx="334.00" cy="208.60" r="1.5" fill="#111" fill-opacity="0.72" stroke="#111" stroke-opacity="0.9" stroke-width="0.6"/>
<circle cx="337.50" cy="209.50" r="1.5" fill="#111" fill-opacity="0.72" stroke="#111" stroke-opacity="0.9" stroke-width="0.6"/>
<circle cx="331.30" cy="211.30" r="1.5" fill="#111" fill-opacity="0.72" stroke="#111" stroke-opacity="0.9" stroke-width="0.6"/>
<circle cx="335.70" cy="212.10" r="1.5" fill="#111" fill-opacity="0.72" stroke="#111" stroke-opacity="0.9" stroke-width="0.6"/>
<circle cx="360.10" cy="163.00" r="1.5" fill="#111" fill-opacity="0.72" stroke="#111" stroke-opacity="0.9" stroke-width="0.6"/>
<circle cx="361.80" cy="174.10" r="1.5" fill="#111" fill-opacity="0.72" stroke="#111" stroke-opacity="0.9" stroke-width="0.6"/>
<circle cx="359.20" cy="183.30" r="1.5" fill="#111" fill-opacity="0.72" stroke="#111" stroke-opacity="0.9" stroke-width="0.6"/>
<circle cx="366.30" cy="183.70" r="1.5" fill="#111" fill-opacity="0.72" stroke="#111" stroke-opacity="0.9" stroke-width="0.6"/>
<circle cx="360.60" cy="192.40" r="1.5" fill="#111" fill-opacity="0.72" stroke="#111" stroke-opacity="0.9" stroke-width="0.6"/>
<circle cx="362.20" cy="191.00" r="1.5" fill="#111" fill-opacity="0.72" stroke="#111" stroke-opacity="0.9" stroke-width="0.6"/>
<circle cx="361.80" cy="197.50" r="1.5" fill="#111" fill-opacity="0.72" stroke="#111" stroke-opacity="0.9" stroke-width="0.6"/>
<circle cx="362.60" cy="199.50" r="1.5" fill="#111" fill-opacity="0.72" stroke="#111" stroke-opacity="0.9" stroke-width="0.6"/>
<circle cx="361.80" cy="202.50" r="1.5" fill="#111" fill-opacity="0.72" stroke="#111" stroke-opacity="0.9" stroke-width="0.6"/>
<circle cx="360.20" cy="206.60" r="1.5" fill="#111" fill-opacity="0.72" stroke="#111" stroke-opacity="0.9" stroke-width="0.6"/>
<circle cx="362.20" cy="208.60" r="1.5" fill="#111" fill-opacity="0.72" stroke="#111" stroke-opacity="0.9" stroke-width="0.6"/>
<circle cx="361.20" cy="210.60" r="1.5" fill="#111" fill-opacity="0.72" stroke="#111" stroke-opacity="0.9" stroke-width="0.6"/>
<circle cx="363.20" cy="211.70" r="1.5" fill="#111" fill-opacity="0.72" stroke="#111" stroke-opacity="0.9" stroke-width="0.6"/>
<circle cx="362.00" cy="197.10" r="1.5" fill="#111" fill-opacity="0.72" stroke="#111" stroke-opacity="0.9" stroke-width="0.6"/>
<circle cx="362.40" cy="203.10" r="1.5" fill="#111" fill-opacity="0.72" stroke="#111" stroke-opacity="0.9" stroke-width="0.6"/>
<circle cx="361.60" cy="207.70" r="1.5" fill="#111" fill-opacity="0.72" stroke="#111" stroke-opacity="0.9" stroke-width="0.6"/>
<circle cx="361.20" cy="209.90" r="1.5" fill="#111" fill-opacity="0.72" stroke="#111" stroke-opacity="0.9" stroke-width="0.6"/>
<circle cx="365.00" cy="210.30" r="1.5" fill="#111" fill-opacity="0.72" stroke="#111" stroke-opacity="0.9" stroke-width="0.6"/>
<circle cx="362.00" cy="212.00" r="1.5" fill="#111" fill-opacity="0.72" stroke="#111" stroke-opacity="0.9" stroke-width="0.6"/>
<circle cx="395.30" cy="45.90" r="1.5" fill="#111" fill-opacity="0.72" stroke="#111" stroke-opacity="0.9" stroke-width="0.6"/>
<circle cx="400.20" cy="45.50" r="1.5" fill="#111" fill-opacity="0.72" stroke="#111" stroke-opacity="0.9" stroke-width="0.6"/>
<circle cx="398.40" cy="50.60" r="1.5" fill="#111" fill-opacity="0.72" stroke="#111" stroke-opacity="0.9" stroke-width="0.6"/>
<circle cx="394.50" cy="58.30" r="1.5" fill="#111" fill-opacity="0.72" stroke="#111" stroke-opacity="0.9" stroke-width="0.6"/>
<circle cx="395.10" cy="64.30" r="1.5" fill="#111" fill-opacity="0.72" stroke="#111" stroke-opacity="0.9" stroke-width="0.6"/>
<circle cx="400.20" cy="66.40" r="1.5" fill="#111" fill-opacity="0.72" stroke="#111" stroke-opacity="0.9" stroke-width="0.6"/>
<circle cx="402.20" cy="70.40" r="1.5" fill="#111" fill-opacity="0.72" stroke="#111" stroke-opacity="0.9" stroke-width="0.6"/>
<circle cx="398.20" cy="71.40" r="1.5" fill="#111" fill-opacity="0.72" stroke="#111" stroke-opacity="0.9" stroke-width="0.6"/>
<circle cx="395.10" cy="73.50" r="1.5" fill="#111" fill-opacity="0.72" stroke="#111" stroke-opacity="0.9" stroke-width="0.6"/>
<circle cx="400.20" cy="74.50" r="1.5" fill="#111" fill-opacity="0.72" stroke="#111" stroke-opacity="0.9" stroke-width="0.6"/>
<circle cx="399.20" cy="79.60" r="1.5" fill="#111" fill-opacity="0.72" stroke="#111" stroke-opacity="0.9" stroke-width="0.6"/>
<circle cx="398.80" cy="83.60" r="1.5" fill="#111" fill-opacity="0.72" stroke="#111" stroke-opacity="0.9" stroke-width="0.6"/>
<circle cx="400.80" cy="97.20" r="1.5" fill="#111" fill-opacity="0.72" stroke="#111" stroke-opacity="0.9" stroke-width="0.6"/>
<circle cx="398.80" cy="99.60" r="1.5" fill="#111" fill-opacity="0.72" stroke="#111" stroke-opacity="0.9" stroke-width="0.6"/>
<circle cx="396.20" cy="106.30" r="1.5" fill="#111" fill-opacity="0.72" stroke="#111" stroke-opacity="0.9" stroke-width="0.6"/>
<circle cx="397.20" cy="107.30" r="1.5" fill="#111" fill-opacity="0.72" stroke="#111" stroke-opacity="0.9" stroke-width="0.6"/>
<circle cx="399.60" cy="112.40" r="1.5" fill="#111" fill-opacity="0.72" stroke="#111" stroke-opacity="0.9" stroke-width="0.6"/>
<circle cx="396.20" cy="116.40" r="1.5" fill="#111" fill-opacity="0.72" stroke="#111" stroke-opacity="0.9" stroke-width="0.6"/>
<circle cx="397.20" cy="119.10" r="1.5" fill="#111" fill-opacity="0.72" stroke="#111" stroke-opacity="0.9" stroke-width="0.6"/>
<circle cx="396.80" cy="121.50" r="1.5" fill="#111" fill-opacity="0.72" stroke="#111" stroke-opacity="0.9" stroke-width="0.6"/>
<circle cx="395.10" cy="128.60" r="1.5" fill="#111" fill-opacity="0.72" stroke="#111" stroke-opacity="0.9" stroke-width="0.6"/>
<circle cx="399.60" cy="129.20" r="1.5" fill="#111" fill-opacity="0.72" stroke="#111" stroke-opacity="0.9" stroke-width="0.6"/>
<circle cx="396.20" cy="130.60" r="1.5" fill="#111" fill-opacity="0.72" stroke="#111" stroke-opacity="0.9" stroke-width="0.6"/>
<circle cx="395.00" cy="131.00" r="1.5" fill="#111" fill-opacity="0.72" stroke="#111" stroke-opacity="0.9" stroke-width="0.6"/>
<circle cx="400.50" cy="131.00" r="1.5" fill="#111" fill-opacity="0.72" stroke="#111" stroke-opacity="0.9" stroke-width="0.6"/>
<circle cx="399.20" cy="135.50" r="1.5" fill="#111" fill-opacity="0.72" stroke="#111" stroke-opacity="0.9" stroke-width="0.6"/>
<circle cx="396.80" cy="144.90" r="1.5" fill="#111" fill-opacity="0.72" stroke="#111" stroke-opacity="0.9" stroke-width="0.6"/>
<circle cx="401.40" cy="144.20" r="1.5" fill="#111" fill-opacity="0.72" stroke="#111" stroke-opacity="0.9" stroke-width="0.6"/>
<circle cx="402.30" cy="146.00" r="1.5" fill="#111" fill-opacity="0.72" stroke="#111" stroke-opacity="0.9" stroke-width="0.6"/>
<circle cx="402.30" cy="149.10" r="1.5" fill="#111" fill-opacity="0.72" stroke="#111" stroke-opacity="0.9" stroke-width="0.6"/>
<circle cx="397.40" cy="150.40" r="1.5" fill="#111" fill-opacity="0.72" stroke="#111" stroke-opacity="0.9" stroke-width="0.6"/>
<circle cx="395.90" cy="153.60" r="1.5" fill="#111" fill-opacity="0.72" stroke="#111" stroke-opacity="0.9" stroke-width="0.6"/>
<circle cx="399.20" cy="156.40" r="1.5" fill="#111" fill-opacity="0.72" stroke="#111" stroke-opacity="0.9" stroke-width="0.6"/>
<circle cx="401.40" cy="162.70" r="1.5" fill="#111" fill-opacity="0.72" stroke="#111" stroke-opacity="0.9" stroke-width="0.6"/>
<circle cx="401.70" cy="164.50" r="1.5" fill="#111" fill-opacity="0.72" stroke="#111" stroke-opacity="0.9" stroke-width="0.6"/>
<circle cx="396.30" cy="167.30" r="1.5" fill="#111" fill-opacity="0.72" stroke="#111" stroke-opacity="0.9" stroke-width="0.6"/>
<circle cx="399.20" cy="169.00" r="1.5" fill="#111" fill-opacity="0.72" stroke="#111" stroke-opacity="0.9" stroke-width="0.6"/>
<circle cx="397.70" cy="168.20" r="1.5" fill="#111" fill-opacity="0.72" stroke="#111" stroke-opacity="0.9" stroke-width="0.6"/>
<circle cx="399.50" cy="171.00" r="1.5" fill="#111" fill-opacity="0.72" stroke="#111" stroke-opacity="0.9" stroke-width="0.6"/>
<circle cx="401.00" cy="178.20" r="1.5" fill="#111" fill-opacity="0.72" stroke="#111" stroke-opacity="0.9" stroke-width="0.6"/>
<circle cx="399.50" cy="180.00" r="1.5" fill="#111" fill-opacity="0.72" stroke="#111" stroke-opacity="0.9" stroke-width="0.6"/>
<circle cx="402.30" cy="182.40" r="1.5" fill="#111" fill-opacity="0.72" stroke="#111" stroke-opacity="0.9" stroke-width="0.6"/>
<circle cx="398.60" cy="182.70" r="1.5" fill="#111" fill-opacity="0.72" stroke="#111" stroke-opacity="0.9" stroke-width="0.6"/>
<circle cx="396.30" cy="188.20" r="1.5" fill="#111" fill-opacity="0.72" stroke="#111" stroke-opacity="0.9" stroke-width="0.6"/>
<circle cx="398.10" cy="187.30" r="1.5" fill="#111" fill-opacity="0.72" stroke="#111" stroke-opacity="0.9" stroke-width="0.6"/>
<circle cx="397.70" cy="192.70" r="1.5" fill="#111" fill-opacity="0.72" stroke="#111" stroke-opacity="0.9" stroke-width="0.6"/>
<circle cx="401.70" cy="191.80" r="1.5" fill="#111" fill-opacity="0.72" stroke="#111" stroke-opacity="0.9" stroke-width="0.6"/>
<circle cx="396.80" cy="194.50" r="1.5" fill="#111" fill-opacity="0.72" stroke="#111" stroke-opacity="0.9" stroke-width="0.6"/>
<circle cx="399.50" cy="197.30" r="1.5" fill="#111" fill-opacity="0.72" stroke="#111" stroke-opacity="0.9" stroke-width="0.6"/>
<circle cx="402.30" cy="198.20" r="1.5" fill="#111" fill-opacity="0.72" stroke="#111" stroke-opacity="0.9" stroke-width="0.6"/>
<circle cx="396.80" cy="203.60" r="1.5" fill="#111" fill-opacity="0.72" stroke="#111" stroke-opacity="0.9" stroke-width="0.6"/>
<circle cx="398.60" cy="203.60" r="1.5" fill="#111" fill-opacity="0.72" stroke="#111" stroke-opacity="0.9" stroke-width="0.6"/>
<circle cx="397.40" cy="205.50" r="1.5" fill="#111" fill-opacity="0.72" stroke="#111" stroke-opacity="0.9" stroke-width="0.6"/>
<circle cx="400.50" cy="205.50" r="1.5" fill="#111" fill-opacity="0.72" stroke="#111" stroke-opacity="0.9" stroke-width="0.6"/>
<circle cx="397.70" cy="207.30" r="1.5" fill="#111" fill-opacity="0.72" stroke="#111" stroke-opacity="0.9" stroke-width="0.6"/>
<circle cx="401.40" cy="208.20" r="1.5" fill="#111" fill-opacity="0.72" stroke="#111" stroke-opacity="0.9" stroke-width="0.6"/>
<circle cx="395.90" cy="209.10" r="1.5" fill="#111" fill-opacity="0.72" stroke="#111" stroke-opacity="0.9" stroke-width="0.6"/>
<circle cx="398.60" cy="209.60" r="1.5" fill="#111" fill-opacity="0.72" stroke="#111" stroke-opacity="0.9" stroke-width="0.6"/>
<circle cx="402.30" cy="210.00" r="1.5" fill="#111" fill-opacity="0.72" stroke="#111" stroke-opacity="0.9" stroke-width="0.6"/>
<circle cx="400.00" cy="211.50" r="1.5" fill="#111" fill-opacity="0.72" stroke="#111" stroke-opacity="0.9" stroke-width="0.6"/>
<circle cx="396.50" cy="211.50" r="1.5" fill="#111" fill-opacity="0.72" stroke="#111" stroke-opacity="0.9" stroke-width="0.6"/>
<circle cx="424.20" cy="45.50" r="1.5" fill="#111" fill-opacity="0.72" stroke="#111" stroke-opacity="0.9" stroke-width="0.6"/>
<circle cx="428.80" cy="48.50" r="1.5" fill="#111" fill-opacity="0.72" stroke="#111" stroke-opacity="0.9" stroke-width="0.6"/>
<circle cx="425.20" cy="69.40" r="1.5" fill="#111" fill-opacity="0.72" stroke="#111" stroke-opacity="0.9" stroke-width="0.6"/>
<circle cx="421.70" cy="71.40" r="1.5" fill="#111" fill-opacity="0.72" stroke="#111" stroke-opacity="0.9" stroke-width="0.6"/>
<circle cx="423.20" cy="77.10" r="1.5" fill="#111" fill-opacity="0.72" stroke="#111" stroke-opacity="0.9" stroke-width="0.6"/>
<circle cx="425.20" cy="91.50" r="1.5" fill="#111" fill-opacity="0.72" stroke="#111" stroke-opacity="0.9" stroke-width="0.6"/>
<circle cx="426.20" cy="96.20" r="1.5" fill="#111" fill-opacity="0.72" stroke="#111" stroke-opacity="0.9" stroke-width="0.6"/>
<circle cx="425.20" cy="97.60" r="1.5" fill="#111" fill-opacity="0.72" stroke="#111" stroke-opacity="0.9" stroke-width="0.6"/>
<circle cx="428.20" cy="103.30" r="1.5" fill="#111" fill-opacity="0.72" stroke="#111" stroke-opacity="0.9" stroke-width="0.6"/>
<circle cx="427.80" cy="105.30" r="1.5" fill="#111" fill-opacity="0.72" stroke="#111" stroke-opacity="0.9" stroke-width="0.6"/>
<circle cx="425.20" cy="111.00" r="1.5" fill="#111" fill-opacity="0.72" stroke="#111" stroke-opacity="0.9" stroke-width="0.6"/>
<circle cx="429.20" cy="115.00" r="1.5" fill="#111" fill-opacity="0.72" stroke="#111" stroke-opacity="0.9" stroke-width="0.6"/>
<circle cx="428.20" cy="117.50" r="1.5" fill="#111" fill-opacity="0.72" stroke="#111" stroke-opacity="0.9" stroke-width="0.6"/>
<circle cx="422.10" cy="119.90" r="1.5" fill="#111" fill-opacity="0.72" stroke="#111" stroke-opacity="0.9" stroke-width="0.6"/>
<circle cx="429.20" cy="118.50" r="1.5" fill="#111" fill-opacity="0.72" stroke="#111" stroke-opacity="0.9" stroke-width="0.6"/>
<circle cx="425.20" cy="129.60" r="1.5" fill="#111" fill-opacity="0.72" stroke="#111" stroke-opacity="0.9" stroke-width="0.6"/>
<circle cx="428.60" cy="130.60" r="1.5" fill="#111" fill-opacity="0.72" stroke="#111" stroke-opacity="0.9" stroke-width="0.6"/>
<circle cx="426.50" cy="131.00" r="1.5" fill="#111" fill-opacity="0.72" stroke="#111" stroke-opacity="0.9" stroke-width="0.6"/>
<circle cx="429.30" cy="130.00" r="1.5" fill="#111" fill-opacity="0.72" stroke="#111" stroke-opacity="0.9" stroke-width="0.6"/>
<circle cx="422.90" cy="136.90" r="1.5" fill="#111" fill-opacity="0.72" stroke="#111" stroke-opacity="0.9" stroke-width="0.6"/>
<circle cx="424.40" cy="137.60" r="1.5" fill="#111" fill-opacity="0.72" stroke="#111" stroke-opacity="0.9" stroke-width="0.6"/>
<circle cx="428.70" cy="138.20" r="1.5" fill="#111" fill-opacity="0.72" stroke="#111" stroke-opacity="0.9" stroke-width="0.6"/>
<circle cx="429.30" cy="142.70" r="1.5" fill="#111" fill-opacity="0.72" stroke="#111" stroke-opacity="0.9" stroke-width="0.6"/>
<circle cx="422.90" cy="148.20" r="1.5" fill="#111" fill-opacity="0.72" stroke="#111" stroke-opacity="0.9" stroke-width="0.6"/>
<circle cx="423.80" cy="149.60" r="1.5" fill="#111" fill-opacity="0.72" stroke="#111" stroke-opacity="0.9" stroke-width="0.6"/>
<circle cx="426.50" cy="149.60" r="1.5" fill="#111" fill-opacity="0.72" stroke="#111" stroke-opacity="0.9" stroke-width="0.6"/>
<circle cx="424.70" cy="157.30" r="1.5" fill="#111" fill-opacity="0.72" stroke="#111" stroke-opacity="0.9" stroke-width="0.6"/>
<circle cx="423.30" cy="160.00" r="1.5" fill="#111" fill-opacity="0.72" stroke="#111" stroke-opacity="0.9" stroke-width="0.6"/>
<circle cx="425.60" cy="160.90" r="1.5" fill="#111" fill-opacity="0.72" stroke="#111" stroke-opacity="0.9" stroke-width="0.6"/>
<circle cx="422.50" cy="162.70" r="1.5" fill="#111" fill-opacity="0.72" stroke="#111" stroke-opacity="0.9" stroke-width="0.6"/>
<circle cx="421.50" cy="164.20" r="1.5" fill="#111" fill-opacity="0.72" stroke="#111" stroke-opacity="0.9" stroke-width="0.6"/>
<circle cx="426.20" cy="168.20" r="1.5" fill="#111" fill-opacity="0.72" stroke="#111" stroke-opacity="0.9" stroke-width="0.6"/>
<circle cx="426.50" cy="170.00" r="1.5" fill="#111" fill-opacity="0.72" stroke="#111" stroke-opacity="0.9" stroke-width="0.6"/>
<circle cx="425.60" cy="173.60" r="1.5" fill="#111" fill-opacity="0.72" stroke="#111" stroke-opacity="0.9" stroke-width="0.6"/>
<circle cx="425.60" cy="171.00" r="1.5" fill="#111" fill-opacity="0.72" stroke="#111" stroke-opacity="0.9" stroke-width="0.6"/>
<circle cx="422.90" cy="177.30" r="1.5" fill="#111" fill-opacity="0.72" stroke="#111" stroke-opacity="0.9" stroke-width="0.6"/>
<circle cx="428.40" cy="176.40" r="1.5" fill="#111" fill-opacity="0.72" stroke="#111" stroke-opacity="0.9" stroke-width="0.6"/>
<circle cx="427.50" cy="180.00" r="1.5" fill="#111" fill-opacity="0.72" stroke="#111" stroke-opacity="0.9" stroke-width="0.6"/>
<circle cx="423.80" cy="181.80" r="1.5" fill="#111" fill-opacity="0.72" stroke="#111" stroke-opacity="0.9" stroke-width="0.6"/>
<circle cx="426.20" cy="183.60" r="1.5" fill="#111" fill-opacity="0.72" stroke="#111" stroke-opacity="0.9" stroke-width="0.6"/>
<circle cx="424.40" cy="186.40" r="1.5" fill="#111" fill-opacity="0.72" stroke="#111" stroke-opacity="0.9" stroke-width="0.6"/>
<circle cx="428.70" cy="187.30" r="1.5" fill="#111" fill-opacity="0.72" stroke="#111" stroke-opacity="0.9" stroke-width="0.6"/>
<circle cx="425.60" cy="190.00" r="1.5" fill="#111" fill-opacity="0.72" stroke="#111" stroke-opacity="0.9" stroke-width="0.6"/>
<circle cx="424.70" cy="192.70" r="1.5" fill="#111" fill-opacity="0.72" stroke="#111" stroke-opacity="0.9" stroke-width="0.6"/>
<circle cx="428.00" cy="193.60" r="1.5" fill="#111" fill-opacity="0.72" stroke="#111" stroke-opacity="0.9" stroke-width="0.6"/>
<circle cx="426.50" cy="195.50" r="1.5" fill="#111" fill-opacity="0.72" stroke="#111" stroke-opacity="0.9" stroke-width="0.6"/>
<circle cx="425.10" cy="198.20" r="1.5" fill="#111" fill-opacity="0.72" stroke="#111" stroke-opacity="0.9" stroke-width="0.6"/>
<circle cx="423.80" cy="201.80" r="1.5" fill="#111" fill-opacity="0.72" stroke="#111" stroke-opacity="0.9" stroke-width="0.6"/>
<circle cx="427.50" cy="202.70" r="1.5" fill="#111" fill-opacity="0.72" stroke="#111" stroke-opacity="0.9" stroke-width="0.6"/>
<circle cx="422.50" cy="205.50" r="1.5" fill="#111" fill-opacity="0.72" stroke="#111" stroke-opacity="0.9" stroke-width="0.6"/>
<circle cx="425.60" cy="206.40" r="1.5" fill="#111" fill-opacity="0.72" stroke="#111" stroke-opacity="0.9" stroke-width="0.6"/>
<circle cx="428.40" cy="207.30" r="1.5" fill="#111" fill-opacity="0.72" stroke="#111" stroke-opacity="0.9" stroke-width="0.6"/>
<circle cx="423.30" cy="209.10" r="1.5" fill="#111" fill-opacity="0.72" stroke="#111" stroke-opacity="0.9" stroke-width="0.6"/>
<circle cx="426.50" cy="209.10" r="1.5" fill="#111" fill-opacity="0.72" stroke="#111" stroke-opacity="0.9" stroke-width="0.6"/>
<circle cx="429.30" cy="210.00" r="1.5" fill="#111" fill-opacity="0.72" stroke="#111" stroke-opacity="0.9" stroke-width="0.6"/>
<circle cx="424.70" cy="210.90" r="1.5" fill="#111" fill-opacity="0.72" stroke="#111" stroke-opacity="0.9" stroke-width="0.6"/>
<circle cx="427.00" cy="211.60" r="1.5" fill="#111" fill-opacity="0.72" stroke="#111" stroke-opacity="0.9" stroke-width="0.6"/>
<circle cx="459.20" cy="38.00" r="1.5" fill="#111" fill-opacity="0.72" stroke="#111" stroke-opacity="0.9" stroke-width="0.6"/>
<circle cx="461.80" cy="38.00" r="1.5" fill="#111" fill-opacity="0.72" stroke="#111" stroke-opacity="0.9" stroke-width="0.6"/>
<circle cx="463.80" cy="39.50" r="1.5" fill="#111" fill-opacity="0.72" stroke="#111" stroke-opacity="0.9" stroke-width="0.6"/>
<circle cx="462.20" cy="41.10" r="1.5" fill="#111" fill-opacity="0.72" stroke="#111" stroke-opacity="0.9" stroke-width="0.6"/>
<circle cx="463.20" cy="43.10" r="1.5" fill="#111" fill-opacity="0.72" stroke="#111" stroke-opacity="0.9" stroke-width="0.6"/>
<circle cx="461.20" cy="44.70" r="1.5" fill="#111" fill-opacity="0.72" stroke="#111" stroke-opacity="0.9" stroke-width="0.6"/>
<circle cx="460.20" cy="49.60" r="1.5" fill="#111" fill-opacity="0.72" stroke="#111" stroke-opacity="0.9" stroke-width="0.6"/>
<circle cx="458.50" cy="52.80" r="1.5" fill="#111" fill-opacity="0.72" stroke="#111" stroke-opacity="0.9" stroke-width="0.6"/>
<circle cx="459.20" cy="55.30" r="1.5" fill="#111" fill-opacity="0.72" stroke="#111" stroke-opacity="0.9" stroke-width="0.6"/>
<circle cx="463.20" cy="58.30" r="1.5" fill="#111" fill-opacity="0.72" stroke="#111" stroke-opacity="0.9" stroke-width="0.6"/>
<circle cx="462.60" cy="61.80" r="1.5" fill="#111" fill-opacity="0.72" stroke="#111" stroke-opacity="0.9" stroke-width="0.6"/>
<circle cx="459.80" cy="71.90" r="1.5" fill="#111" fill-opacity="0.72" stroke="#111" stroke-opacity="0.9" stroke-width="0.6"/>
<circle cx="460.20" cy="74.00" r="1.5" fill="#111" fill-opacity="0.72" stroke="#111" stroke-opacity="0.9" stroke-width="0.6"/>
<circle cx="459.20" cy="80.00" r="1.5" fill="#111" fill-opacity="0.72" stroke="#111" stroke-opacity="0.9" stroke-width="0.6"/>
<circle cx="463.20" cy="82.70" r="1.5" fill="#111" fill-opacity="0.72" stroke="#111" stroke-opacity="0.9" stroke-width="0.6"/>
<circle cx="459.20" cy="80.40" r="1.5" fill="#111" fill-opacity="0.72" stroke="#111" stroke-opacity="0.9" stroke-width="0.6"/>
<circle cx="462.60" cy="82.40" r="1.5" fill="#111" fill-opacity="0.72" stroke="#111" stroke-opacity="0.9" stroke-width="0.6"/>
<circle cx="463.80" cy="85.10" r="1.5" fill="#111" fill-opacity="0.72" stroke="#111" stroke-opacity="0.9" stroke-width="0.6"/>
<circle cx="459.80" cy="87.70" r="1.5" fill="#111" fill-opacity="0.72" stroke="#111" stroke-opacity="0.9" stroke-width="0.6"/>
<circle cx="464.20" cy="90.50" r="1.5" fill="#111" fill-opacity="0.72" stroke="#111" stroke-opacity="0.9" stroke-width="0.6"/>
<circle cx="463.20" cy="100.70" r="1.5" fill="#111" fill-opacity="0.72" stroke="#111" stroke-opacity="0.9" stroke-width="0.6"/>
<circle cx="460.60" cy="114.10" r="1.5" fill="#111" fill-opacity="0.72" stroke="#111" stroke-opacity="0.9" stroke-width="0.6"/>
<circle cx="458.10" cy="143.70" r="1.5" fill="#111" fill-opacity="0.72" stroke="#111" stroke-opacity="0.9" stroke-width="0.6"/>
<circle cx="464.60" cy="141.20" r="1.5" fill="#111" fill-opacity="0.72" stroke="#111" stroke-opacity="0.9" stroke-width="0.6"/>
<circle cx="460.60" cy="153.00" r="1.5" fill="#111" fill-opacity="0.72" stroke="#111" stroke-opacity="0.9" stroke-width="0.6"/>
<circle cx="465.80" cy="153.40" r="1.5" fill="#111" fill-opacity="0.72" stroke="#111" stroke-opacity="0.9" stroke-width="0.6"/>
<circle cx="465.20" cy="159.50" r="1.5" fill="#111" fill-opacity="0.72" stroke="#111" stroke-opacity="0.9" stroke-width="0.6"/>
<circle cx="461.80" cy="173.70" r="1.5" fill="#111" fill-opacity="0.72" stroke="#111" stroke-opacity="0.9" stroke-width="0.6"/>
<circle cx="462.60" cy="183.10" r="1.5" fill="#111" fill-opacity="0.72" stroke="#111" stroke-opacity="0.9" stroke-width="0.6"/>
<circle cx="458.30" cy="186.20" r="1.5" fill="#111" fill-opacity="0.72" stroke="#111" stroke-opacity="0.9" stroke-width="0.6"/>
<circle cx="458.30" cy="192.00" r="1.5" fill="#111" fill-opacity="0.72" stroke="#111" stroke-opacity="0.9" stroke-width="0.6"/>
<circle cx="465.20" cy="192.80" r="1.5" fill="#111" fill-opacity="0.72" stroke="#111" stroke-opacity="0.9" stroke-width="0.6"/>
<circle cx="460.70" cy="199.90" r="1.5" fill="#111" fill-opacity="0.72" stroke="#111" stroke-opacity="0.9" stroke-width="0.6"/>
<circle cx="462.00" cy="201.30" r="1.5" fill="#111" fill-opacity="0.72" stroke="#111" stroke-opacity="0.9" stroke-width="0.6"/>
<circle cx="459.60" cy="205.40" r="1.5" fill="#111" fill-opacity="0.72" stroke="#111" stroke-opacity="0.9" stroke-width="0.6"/>
<circle cx="461.00" cy="209.20" r="1.5" fill="#111" fill-opacity="0.72" stroke="#111" stroke-opacity="0.9" stroke-width="0.6"/>
<circle cx="460.10" cy="210.10" r="1.5" fill="#111" fill-opacity="0.72" stroke="#111" stroke-opacity="0.9" stroke-width="0.6"/>
<circle cx="487.20" cy="38.70" r="1.5" fill="#111" fill-opacity="0.72" stroke="#111" stroke-opacity="0.9" stroke-width="0.6"/>
<circle cx="490.20" cy="39.50" r="1.5" fill="#111" fill-opacity="0.72" stroke="#111" stroke-opacity="0.9" stroke-width="0.6"/>
<circle cx="492.20" cy="41.50" r="1.5" fill="#111" fill-opacity="0.72" stroke="#111" stroke-opacity="0.9" stroke-width="0.6"/>
<circle cx="488.80" cy="43.10" r="1.5" fill="#111" fill-opacity="0.72" stroke="#111" stroke-opacity="0.9" stroke-width="0.6"/>
<circle cx="486.20" cy="51.20" r="1.5" fill="#111" fill-opacity="0.72" stroke="#111" stroke-opacity="0.9" stroke-width="0.6"/>
<circle cx="485.10" cy="52.80" r="1.5" fill="#111" fill-opacity="0.72" stroke="#111" stroke-opacity="0.9" stroke-width="0.6"/>
<circle cx="490.80" cy="50.80" r="1.5" fill="#111" fill-opacity="0.72" stroke="#111" stroke-opacity="0.9" stroke-width="0.6"/>
<circle cx="489.60" cy="56.30" r="1.5" fill="#111" fill-opacity="0.72" stroke="#111" stroke-opacity="0.9" stroke-width="0.6"/>
<circle cx="487.60" cy="59.70" r="1.5" fill="#111" fill-opacity="0.72" stroke="#111" stroke-opacity="0.9" stroke-width="0.6"/>
<circle cx="485.50" cy="62.40" r="1.5" fill="#111" fill-opacity="0.72" stroke="#111" stroke-opacity="0.9" stroke-width="0.6"/>
<circle cx="490.20" cy="71.10" r="1.5" fill="#111" fill-opacity="0.72" stroke="#111" stroke-opacity="0.9" stroke-width="0.6"/>
<circle cx="488.20" cy="72.50" r="1.5" fill="#111" fill-opacity="0.72" stroke="#111" stroke-opacity="0.9" stroke-width="0.6"/>
<circle cx="487.60" cy="83.30" r="1.5" fill="#111" fill-opacity="0.72" stroke="#111" stroke-opacity="0.9" stroke-width="0.6"/>
<circle cx="487.70" cy="83.60" r="1.5" fill="#111" fill-opacity="0.72" stroke="#111" stroke-opacity="0.9" stroke-width="0.6"/>
<circle cx="490.10" cy="90.20" r="1.5" fill="#111" fill-opacity="0.72" stroke="#111" stroke-opacity="0.9" stroke-width="0.6"/>
<circle cx="488.40" cy="94.10" r="1.5" fill="#111" fill-opacity="0.72" stroke="#111" stroke-opacity="0.9" stroke-width="0.6"/>
<circle cx="487.20" cy="103.10" r="1.5" fill="#111" fill-opacity="0.72" stroke="#111" stroke-opacity="0.9" stroke-width="0.6"/>
<circle cx="490.80" cy="107.20" r="1.5" fill="#111" fill-opacity="0.72" stroke="#111" stroke-opacity="0.9" stroke-width="0.6"/>
<circle cx="488.40" cy="115.30" r="1.5" fill="#111" fill-opacity="0.72" stroke="#111" stroke-opacity="0.9" stroke-width="0.6"/>
<circle cx="490.10" cy="117.70" r="1.5" fill="#111" fill-opacity="0.72" stroke="#111" stroke-opacity="0.9" stroke-width="0.6"/>
<circle cx="491.50" cy="120.10" r="1.5" fill="#111" fill-opacity="0.72" stroke="#111" stroke-opacity="0.9" stroke-width="0.6"/>
<circle cx="490.10" cy="123.30" r="1.5" fill="#111" fill-opacity="0.72" stroke="#111" stroke-opacity="0.9" stroke-width="0.6"/>
<circle cx="491.50" cy="126.20" r="1.5" fill="#111" fill-opacity="0.72" stroke="#111" stroke-opacity="0.9" stroke-width="0.6"/>
<circle cx="492.00" cy="129.90" r="1.5" fill="#111" fill-opacity="0.72" stroke="#111" stroke-opacity="0.9" stroke-width="0.6"/>
<circle cx="490.80" cy="133.00" r="1.5" fill="#111" fill-opacity="0.72" stroke="#111" stroke-opacity="0.9" stroke-width="0.6"/>
<circle cx="489.60" cy="137.20" r="1.5" fill="#111" fill-opacity="0.72" stroke="#111" stroke-opacity="0.9" stroke-width="0.6"/>
<circle cx="490.40" cy="125.80" r="1.5" fill="#111" fill-opacity="0.72" stroke="#111" stroke-opacity="0.9" stroke-width="0.6"/>
<circle cx="491.20" cy="130.20" r="1.5" fill="#111" fill-opacity="0.72" stroke="#111" stroke-opacity="0.9" stroke-width="0.6"/>
<circle cx="492.00" cy="133.90" r="1.5" fill="#111" fill-opacity="0.72" stroke="#111" stroke-opacity="0.9" stroke-width="0.6"/>
<circle cx="492.00" cy="136.00" r="1.5" fill="#111" fill-opacity="0.72" stroke="#111" stroke-opacity="0.9" stroke-width="0.6"/>
<circle cx="491.20" cy="139.20" r="1.5" fill="#111" fill-opacity="0.72" stroke="#111" stroke-opacity="0.9" stroke-width="0.6"/>
<circle cx="487.60" cy="140.90" r="1.5" fill="#111" fill-opacity="0.72" stroke="#111" stroke-opacity="0.9" stroke-width="0.6"/>
<circle cx="488.80" cy="144.70" r="1.5" fill="#111" fill-opacity="0.72" stroke="#111" stroke-opacity="0.9" stroke-width="0.6"/>
<circle cx="487.10" cy="163.80" r="1.5" fill="#111" fill-opacity="0.72" stroke="#111" stroke-opacity="0.9" stroke-width="0.6"/>
<circle cx="487.40" cy="165.00" r="1.5" fill="#111" fill-opacity="0.72" stroke="#111" stroke-opacity="0.9" stroke-width="0.6"/>
<circle cx="491.90" cy="193.40" r="1.5" fill="#111" fill-opacity="0.72" stroke="#111" stroke-opacity="0.9" stroke-width="0.6"/>
<circle cx="485.20" cy="197.90" r="1.5" fill="#111" fill-opacity="0.72" stroke="#111" stroke-opacity="0.9" stroke-width="0.6"/>
<circle cx="492.60" cy="204.00" r="1.5" fill="#111" fill-opacity="0.72" stroke="#111" stroke-opacity="0.9" stroke-width="0.6"/>
<circle cx="491.30" cy="207.90" r="1.5" fill="#111" fill-opacity="0.72" stroke="#111" stroke-opacity="0.9" stroke-width="0.6"/>
<circle cx="489.70" cy="211.50" r="1.5" fill="#111" fill-opacity="0.72" stroke="#111" stroke-opacity="0.9" stroke-width="0.6"/>
<line x1="323.80" y1="205.50" x2="347.80" y2="205.50" stroke="#111111" stroke-width="1.4"/>
<line x1="350.50" y1="200.60" x2="374.50" y2="200.60" stroke="#111111" stroke-width="1.4"/>
<line x1="386.80" y1="186.00" x2="410.80" y2="186.00" stroke="#111111" stroke-width="1.4"/>
<line x1="413.70" y1="189.30" x2="437.70" y2="189.30" stroke="#111111" stroke-width="1.4"/>
<line x1="450.00" y1="85.10" x2="474.00" y2="85.10" stroke="#111111" stroke-width="1.4"/>
<line x1="476.90" y1="105.50" x2="500.90" y2="105.50" stroke="#111111" stroke-width="1.4"/>
<polygon points="398.80,33.60 399.55,35.76 401.84,35.81 400.02,37.20 400.68,39.39 398.80,38.08 396.92,39.39 397.58,37.20 395.76,35.81 398.05,35.76" fill="#b40f3c"/>
<polygon points="461.90,26.80 462.65,28.96 464.94,29.01 463.12,30.40 463.78,32.59 461.90,31.28 460.02,32.59 460.68,30.40 458.86,29.01 461.15,28.96" fill="#b40f3c"/>
<polygon points="488.90,26.80 489.65,28.96 491.94,29.01 490.12,30.40 490.78,32.59 488.90,31.28 487.02,32.59 487.68,30.40 485.86,29.01 488.15,28.96" fill="#111"/>
</svg>
</body></html>
